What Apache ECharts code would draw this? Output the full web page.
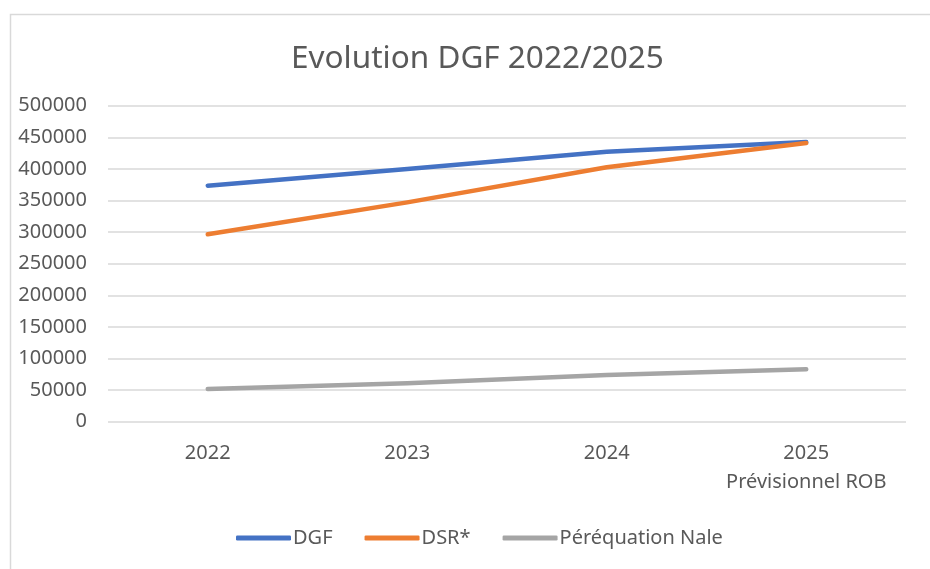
<!DOCTYPE html>
<html>
<head>
<meta charset="utf-8">
<script src="https://cdn.jsdelivr.net/npm/echarts@6/dist/echarts.min.js"></script>
<style>
  html, body { margin: 0; padding: 0; background: #fff; }
  #dgf { width: 930px; height: 569px; }
</style>
</head>
<body>
<div id="dgf"></div>
<script>
const years = ['2022', '2023', '2024', '2025\nPrévisionnel ROB'];
const dgfValues = [373500, 400000, 427000, 442500];
const dsrValues = [296500, 347000, 402500, 441000];
const perequationValues = [51700, 61000, 74000, 83000];
const yTicks = { min: 0, max: 500000, interval: 50000 };

!(function (window) {
    const { echarts } = window;
    const chart = echarts.init(document.getElementById('dgf'));
    const textColor = '#595959';
    const font = 'Noto Sans';

    const lineSeries = (name, data, color) => ({
        name,
        type: 'line',
        data,
        showSymbol: false,
        symbol: 'none',
        lineStyle: { color, width: 4.5, cap: 'round', join: 'round' },
        itemStyle: { color },
    });

    const option = {
        backgroundColor: '#fff',
        animation: false,
        title: {
            text: 'Evolution DGF 2022/2025',
            left: 286,
            top: 38,
            textStyle: { color: textColor, fontFamily: font, fontSize: 31.5, fontWeight: 'normal' },
        },
        graphic: [{
            type: 'rect',
            shape: { x: 10.5, y: 14.5, width: 940, height: 580 },
            style: { fill: 'none', stroke: '#d9d9d9', lineWidth: 1.5 },
            silent: true,
        }],
        legend: {
            bottom: 16,
            left: 231,
            icon: 'roundRect',
            itemWidth: 55,
            itemHeight: 5,
            itemGap: 32,
            data: ['DGF', 'DSR*', 'Péréquation Nale'],
            textStyle: { color: textColor, fontFamily: font, fontSize: 20, padding: [0, 0, 0, -3] },
        },
        grid: { left: 108, right: 24, top: 105.7, bottom: 147.3, containLabel: false },
        xAxis: {
            type: 'category',
            data: years,
            boundaryGap: true,
            axisLine: { show: false },
            axisTick: { show: false },
            axisLabel: {
                color: textColor,
                fontFamily: font,
                fontSize: 20,
                margin: 17,
                lineHeight: 29,
                interval: 0,
            },
        },
        yAxis: {
            type: 'value',
            min: yTicks.min,
            max: yTicks.max,
            interval: yTicks.interval,
            axisLine: { show: false },
            axisTick: { show: false },
            axisLabel: {
                color: textColor,
                fontFamily: font,
                fontSize: 20,
                margin: 21,
                formatter: value => String(value),
            },
            splitLine: { lineStyle: { color: '#d9d9d9', width: 1.5 } },
        },
        series: [
            lineSeries('DGF', dgfValues, '#4472C4'),
            lineSeries('DSR*', dsrValues, '#ED7D31'),
            lineSeries('Péréquation Nale', perequationValues, '#A5A5A5'),
        ],
    };

    chart.setOption(option);
}(window));
</script>
</body>
</html>
